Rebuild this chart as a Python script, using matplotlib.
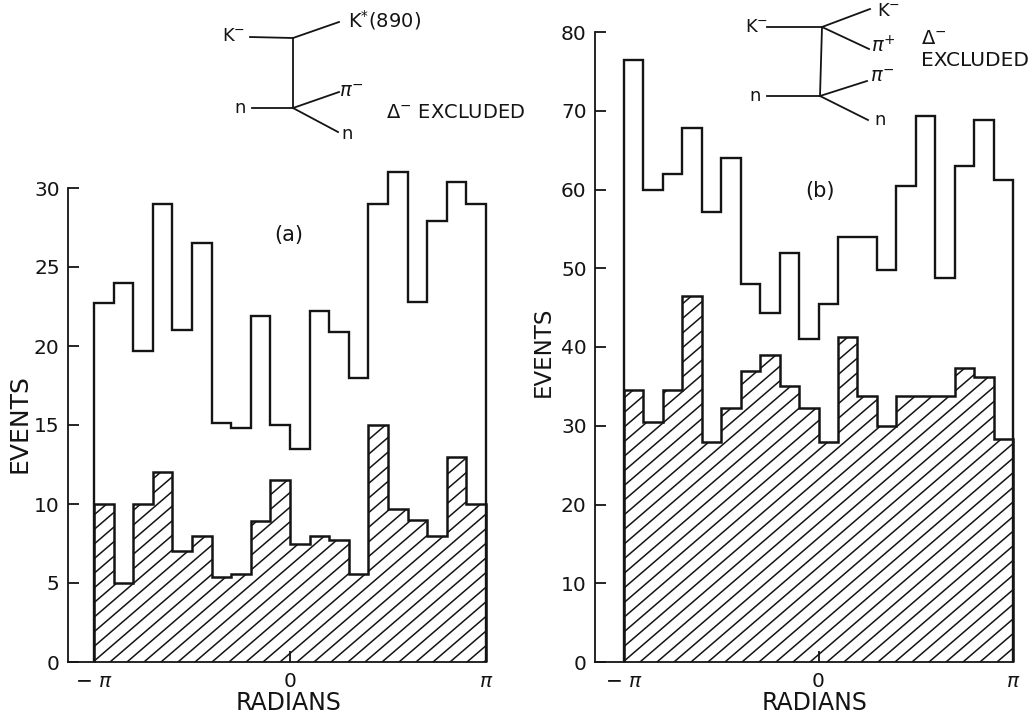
import numpy as np
import matplotlib
matplotlib.use('Agg')
import matplotlib.pyplot as plt
from matplotlib.transforms import IdentityTransform

W, H = 1032, 717
INK = '#141414'

outer_a = [22.7, 24, 19.7, 29, 21, 26.5, 15.1, 14.8, 21.9, 15,
           13.5, 22.2, 20.9, 18, 29, 31, 22.8, 27.9, 30.4, 29]
inner_a = [10, 5, 10, 12, 7, 8, 5.4, 5.6, 8.9, 11.5,
           7.5, 8, 7.7, 5.6, 15, 9.7, 9, 8, 13, 10]
outer_b = [76.4, 60, 62, 67.8, 57.2, 64, 48, 44.3, 52, 41,
           45.4, 54, 54, 49.8, 60.4, 69.3, 48.8, 63, 68.8, 61.2]
inner_b = [34.5, 30.5, 34.5, 46.5, 28, 32.3, 37, 39, 35, 32.3,
           28, 41.3, 33.8, 30, 33.8, 33.8, 33.8, 37.3, 36.2, 28.3]
yticks_a = [0, 5, 10, 15, 20, 25, 30]
yticks_b = [0, 10, 20, 30, 40, 50, 60, 70, 80]
edges = np.linspace(-np.pi, np.pi, 21)

plt.rcParams['font.family'] = 'DejaVu Sans'
plt.rcParams['mathtext.default'] = 'regular'
fig = plt.figure(figsize=(W / 100, H / 100), dpi=100, facecolor='white')


def panel(spine_x, left_x, right_x, top_y, ymax, yticks, outer, inner):
    bottom_y = 662
    ax = fig.add_axes([spine_x / W, 1 - bottom_y / H, (right_x - spine_x) / W, (bottom_y - top_y) / H])
    per_px = 2 * np.pi / (right_x - left_x)
    ax.set_xlim(-np.pi - (left_x - spine_x) * per_px, np.pi)
    ax.set_ylim(0, ymax)
    ax.patch.set_alpha(0)
    for s in ['top', 'right']:
        ax.spines[s].set_visible(False)
    for s in ['left', 'bottom']:
        ax.spines[s].set_linewidth(1.3)
        ax.spines[s].set_color(INK)

    # hatched part first, lines cut to its outline
    shape = ax.stairs(inner, edges, baseline=0, fill=True, facecolor='none', edgecolor='none')
    for c in np.arange(-700, 1100, 17):
        hatch, = ax.plot([c + left_x - 100, c + left_x + 600], [H - 662, H - 662 + 700 * 0.86],
                         transform=IdentityTransform(), color=INK, lw=1.1)
        hatch.set_clip_path(shape)
    ax.stairs(inner, edges, baseline=0, color=INK, lw=1.8, clip_on=False)
    ax.stairs(outer, edges, baseline=0, color=INK, lw=1.7, clip_on=False)

    ax.set_yticks(yticks)
    ax.set_xticks([-np.pi, 0, np.pi], ['\u2212 $\\mathit{\\pi}$', '0', '$\\mathit{\\pi}$'])
    ax.tick_params(axis='y', direction='in', length=8, width=1.3, color=INK, labelsize=14.5, labelcolor=INK, pad=6)
    ax.tick_params(axis='x', direction='in', length=8, width=1.3, color=INK, labelsize=14.5, labelcolor=INK, pad=7)
    ticks = ax.xaxis.get_major_ticks()
    ticks[0].tick1line.set_visible(False)
    ticks[2].tick1line.set_visible(False)
    return ax


panel(68, 94, 486, 188, 30, yticks_a, outer_a, inner_a)
panel(595, 624, 1013, 32, 80, yticks_b, outer_b, inner_b)

# overlay in picture pixels for labels and the two diagrams
over = fig.add_axes([0, 0, 1, 1])
over.set_xlim(0, W)
over.set_ylim(H, 0)
over.axis('off')

segments = [
    ((250, 37), (293, 38)), ((293, 38), (293, 108)), ((293, 38), (339, 22)),
    ((252, 108), (293, 108)), ((293, 108), (339, 92)), ((293, 108), (338, 132)),
    ((767, 27), (822, 27)), ((822, 27), (820, 96)), ((822, 27), (870, 9)),
    ((822, 27), (869, 49)), ((767, 96), (820, 96)), ((820, 96), (867, 81)),
    ((820, 96), (868, 120)),
]
for p, q in segments:
    over.plot([p[0], q[0]], [p[1], q[1]], color=INK, lw=1.3)

labels = [
    (234, 36, 'K$^{-}$', 13), (240, 108, 'n', 13), (348, 20, None, 14),
    (351, 91, '$\\mathit{\\pi}^{-}$', 14), (347, 134, 'n', 13),
    (757, 27, 'K$^{-}$', 13), (755, 96, 'n', 13), (889, 11, 'K$^{-}$', 13),
    (883, 46, '$\\mathit{\\pi}^{+}$', 14), (882, 76, '$\\mathit{\\pi}^{-}$', 14), (880, 120, 'n', 13),
    (934, 38, '\u0394$^{-}$', 14),
]
for x, y, s, size in labels:
    if s is None:
        over.text(x, y, 'K$^{*}$(890)', fontsize=size, ha='left', va='center', color=INK)
    else:
        over.text(x, y, s, fontsize=size, ha='center', va='center', color=INK)
over.text(386, 112, '\u0394$^{-}$ EXCLUDED', fontsize=14, ha='left', va='center', color=INK)
over.text(921, 60, 'EXCLUDED', fontsize=14.5, ha='left', va='center', color=INK)
over.text(289, 235, '(a)', fontsize=15, ha='center', va='center', color=INK)
over.text(820, 191, '(b)', fontsize=15, ha='center', va='center', color=INK)
over.text(289, 703, 'RADIANS', fontsize=17, ha='center', va='center', color=INK)
over.text(815, 703, 'RADIANS', fontsize=17, ha='center', va='center', color=INK)
over.text(20, 424, 'EVENTS', fontsize=18, rotation=90, ha='center', va='center', color=INK)
over.text(543, 352, 'EVENTS', fontsize=16.5, rotation=90, ha='center', va='center', color=INK)

fig.savefig('out.png', dpi=100)
